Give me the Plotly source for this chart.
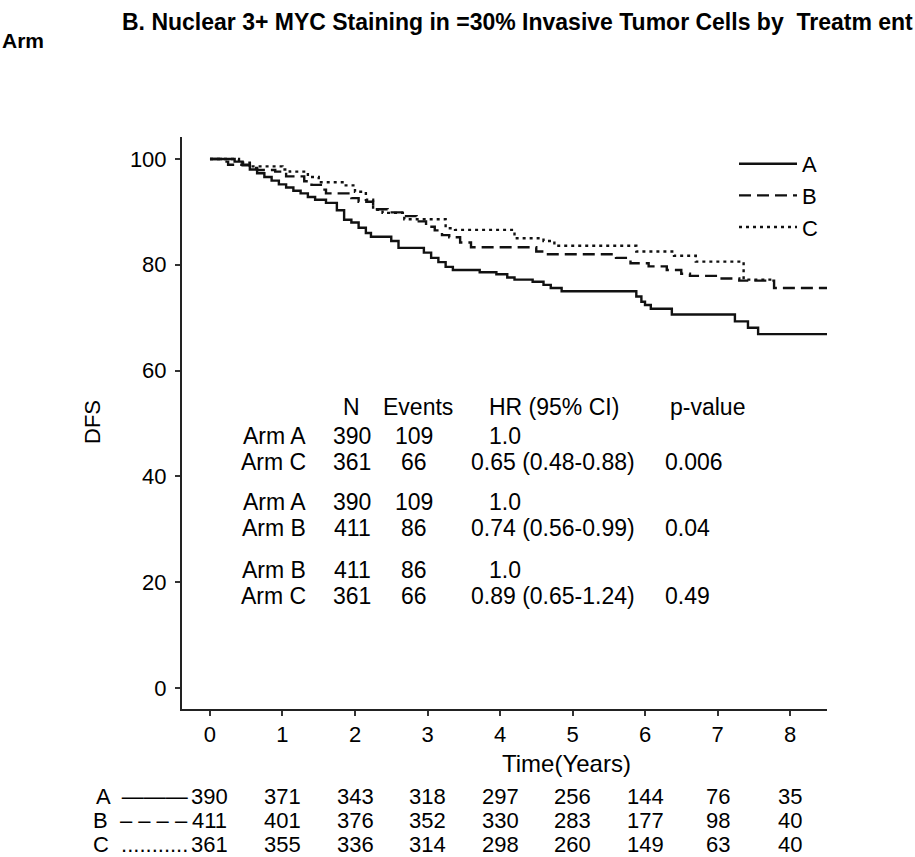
import plotly.graph_objects as go

# ---------------- data ----------------
arm_names = ["A", "B", "C"]

a_time = [0, 0.34, 0.45, 0.55, 0.65, 0.75, 0.85, 0.95, 1.05, 1.15, 1.25, 1.35, 1.45, 1.6, 1.75,
          1.85, 1.95, 2.05, 2.15, 2.22, 2.5, 2.6, 2.95, 3.05, 3.15, 3.25, 3.35, 3.72, 3.95, 4.1,
          4.2, 4.45, 4.6, 4.7, 4.85, 5.88, 5.95, 6.0, 6.08, 6.37, 7.24, 7.42, 7.56, 8.52]
a_dfs = [100, 99.5, 98.8, 98.0, 97.3, 96.6, 95.9, 95.2, 94.6, 94.0, 93.5, 92.8, 92.3, 91.7, 90.3,
         88.5, 88.0, 87.0, 86.0, 85.3, 84.5, 83.2, 82.3, 81.3, 80.5, 79.6, 79.0, 78.6, 78.2, 77.6,
         77.2, 76.8, 76.2, 75.6, 75.0, 74.0, 73.0, 72.4, 71.7, 70.6, 69.3, 68.1, 66.9, 66.9]

b_time = [0, 0.18, 0.25, 0.55, 0.65, 0.9, 1.05, 1.3, 1.4, 1.55, 1.6, 1.95, 2.05, 2.25, 2.45, 2.65,
          2.85, 2.98, 3.1, 3.2, 3.3, 3.45, 3.6, 4.5, 4.6, 5.6, 5.8, 6.05, 6.3, 6.5, 6.62, 7.0, 7.3,
          7.78, 8.52]
b_dfs = [100, 99.5, 98.9, 98.3, 97.9, 97.6, 96.7, 95.8, 95.1, 94.2, 93.5, 92.6, 91.9, 90.5, 89.9,
         89.2, 88.2, 87.2, 86.5, 85.6, 85.2, 84.2, 83.3, 82.5, 82.0, 81.3, 80.3, 79.7, 79.0, 78.3,
         77.9, 77.4, 77.0, 75.6, 75.6]

c_time = [0, 0.4, 0.55, 1.0, 1.1, 1.35, 1.5, 1.85, 2.0, 2.15, 2.25, 2.38, 2.68, 3.25, 3.38, 4.2,
          4.6, 4.75, 5.88, 6.4, 6.7, 7.36, 7.75]
c_dfs = [100, 99.3, 98.6, 98.0, 97.6, 96.6, 95.6, 95.0, 93.8, 92.3, 90.4, 89.8, 88.6, 86.9, 86.6,
         85.0, 84.5, 83.6, 82.5, 81.7, 80.6, 77.2, 77.2]

x_ticks = [0, 1, 2, 3, 4, 5, 6, 7, 8]
y_ticks = [0, 20, 40, 60, 80, 100]

risk_a = [390, 371, 343, 318, 297, 256, 144, 76, 35]
risk_b = [411, 401, 376, 352, 330, 283, 177, 98, 40]
risk_c = [361, 355, 336, 314, 298, 260, 149, 63, 40]

tbl_arm = ["Arm A", "Arm C", "Arm A", "Arm B", "Arm B", "Arm C"]
tbl_n = [390, 361, 390, 411, 411, 361]
tbl_events = [109, 66, 109, 86, 86, 66]
tbl_hr = ["1.0", "0.65 (0.48-0.88)", "1.0", "0.74 (0.56-0.99)", "1.0", "0.89 (0.65-1.24)"]
tbl_p = ["", "0.006", "", "0.04", "", "0.49"]

title_line1 = "B. Nuclear 3+ MYC Staining in =30% Invasive Tumor Cells by  Treatm ent"
title_line2 = "Arm"

# ---------------- layout helpers ----------------
W, H = 915, 857
L, R, T, B = 182, 827, 137, 709
FONT = "Liberation Sans, Arial, sans-serif"


def px(x):
    return (x - L) / (R - L)


def py(y):
    return (B - y) / (B - T)


fig = go.Figure()
styles = [dict(color="#111", width=2.4, dash="solid"),
          dict(color="#111", width=2.4, dash="12px,6px"),
          dict(color="#111", width=2.4, dash="3px,4px")]
for name, t, v, st in zip(arm_names, [a_time, b_time, c_time], [a_dfs, b_dfs, c_dfs], styles):
    fig.add_trace(go.Scatter(x=t, y=v, mode="lines", line=dict(shape="hv", **st), name=name))

ann = []
# title
ann.append(dict(text="<b>%s</b>" % title_line1, x=px(120), y=py(22), xref="paper", yref="paper",
                xanchor="left", yanchor="middle", showarrow=False,
                font=dict(family=FONT, size=23, color="#000")))
ann.append(dict(text="<b>%s</b>" % title_line2, x=px(0), y=py(41), xref="paper", yref="paper",
                xanchor="left", yanchor="middle", showarrow=False,
                font=dict(family=FONT, size=21, color="#000")))
# axis titles
ann.append(dict(text="Time(Years)", x=px(566), y=py(763), xref="paper", yref="paper",
                xanchor="center", yanchor="middle", showarrow=False,
                font=dict(family=FONT, size=24, color="#000")))
ann.append(dict(text="DFS", x=px(92), y=py(422), xref="paper", yref="paper", textangle=-90,
                xanchor="center", yanchor="middle", showarrow=False,
                font=dict(family=FONT, size=22, color="#000")))

# inner statistics table
tf = dict(family=FONT, size=23, color="#000")
header_y = 407
row_y = [436, 462, 502, 528, 570, 596]
for txt, x, anchor in [("N", 351, "center"), ("Events", 418, "center"),
                       ("HR (95% CI)", 487, "left"), ("p-value", 668, "left")]:
    ann.append(dict(text=txt, x=px(x), y=py(header_y), xref="paper", yref="paper",
                    xanchor=anchor, yanchor="middle", showarrow=False, font=tf))
for i in range(len(tbl_arm)):
    yy = py(row_y[i])
    ann.append(dict(text=tbl_arm[i], x=px(308), y=yy, xref="paper", yref="paper",
                    xanchor="right", yanchor="middle", showarrow=False, font=tf))
    ann.append(dict(text=str(tbl_n[i]), x=px(352), y=yy, xref="paper", yref="paper",
                    xanchor="center", yanchor="middle", showarrow=False, font=tf))
    ann.append(dict(text=str(tbl_events[i]), x=px(414), y=yy, xref="paper", yref="paper",
                    xanchor="center", yanchor="middle", showarrow=False, font=tf))
    hx = 487 if tbl_hr[i] == "1.0" else 469
    ann.append(dict(text=tbl_hr[i], x=px(hx), y=yy, xref="paper", yref="paper",
                    xanchor="left", yanchor="middle", showarrow=False, font=tf))
    if tbl_p[i]:
        ann.append(dict(text=tbl_p[i], x=px(663), y=yy, xref="paper", yref="paper",
                        xanchor="left", yanchor="middle", showarrow=False, font=tf))

# number at risk table
rf = dict(family=FONT, size=22, color="#000")
risk_rows = [risk_a, risk_b, risk_c]
risk_labels = ["A  \u2014\u2014\u2014", "B  \u2013 \u2013 \u2013 \u2013", "C  ..........."]
risk_y = [796, 820, 844]
for lab, row, yv in zip(risk_labels, risk_rows, risk_y):
    ann.append(dict(text=lab, x=px(190), y=py(yv), xref="paper", yref="paper",
                    xanchor="right", yanchor="middle", showarrow=False, font=rf))
    for t, n in zip(x_ticks, row):
        ann.append(dict(text=str(n), x=t, y=py(yv), xref="x", yref="paper",
                        xanchor="center", yanchor="middle", showarrow=False, font=rf))

axis_common = dict(showgrid=False, zeroline=False, showline=True, linecolor="#222", linewidth=2,
                   ticks="outside", ticklen=5, tickwidth=1.5, tickcolor="#333",
                   tickfont=dict(family=FONT, size=22, color="#000"))

fig.update_layout(
    width=W, height=H,
    margin=dict(l=L, r=W - R, t=T, b=H - B),
    paper_bgcolor="white", plot_bgcolor="white",
    xaxis=dict(range=[-0.386, 8.51], tickvals=x_ticks, ticklabelstandoff=0, **axis_common),
    yaxis=dict(range=[-3.96, 104.15], tickvals=y_ticks, ticklabelstandoff=4, **axis_common),
    showlegend=True,
    legend=dict(x=px(734), y=py(143), xanchor="left", yanchor="top", bgcolor="rgba(0,0,0,0)",
                itemwidth=58, tracegroupgap=0,
                font=dict(family=FONT, size=22, color="#000")),
    annotations=ann,
)

fig.write_html("out.html", config={"displayModeBar": False},
               post_script="document.body.style.margin='0';")
